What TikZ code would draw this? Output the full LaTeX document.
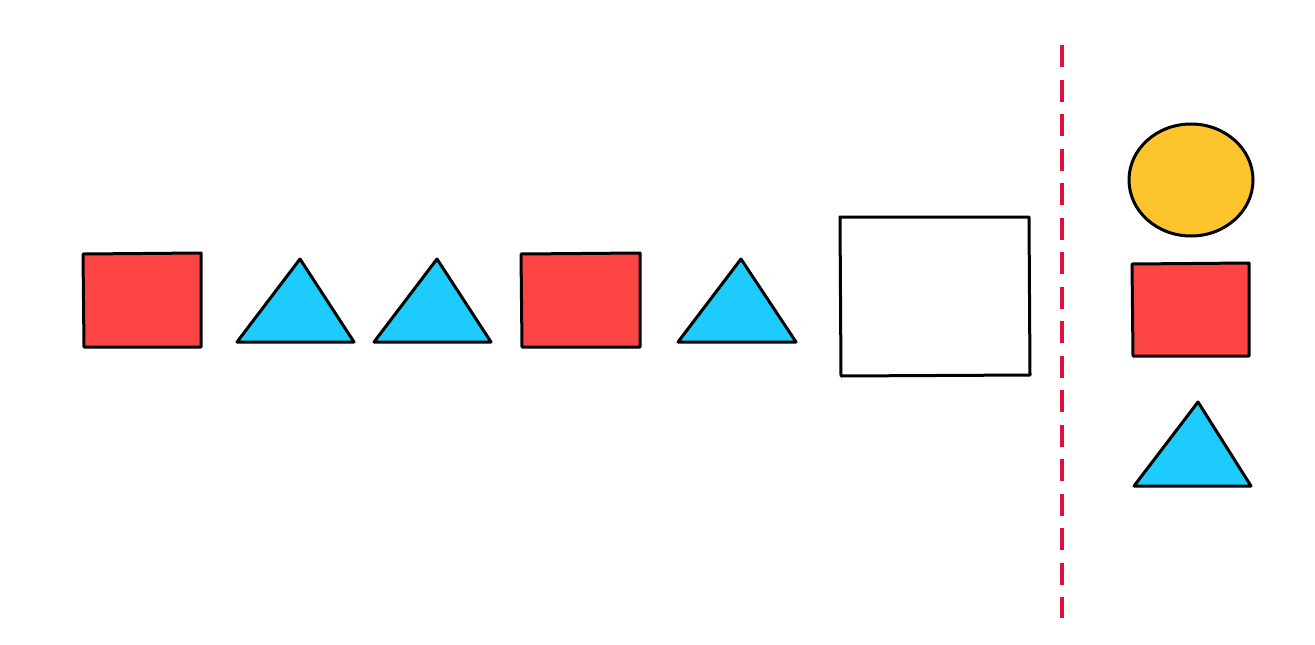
\documentclass[tikz,border=0pt]{standalone}
\definecolor{shapered}{HTML}{FC4444}
\definecolor{shapeblue}{HTML}{1DCCFD}
\definecolor{shapeyellow}{HTML}{FEC42E}
\definecolor{divider}{HTML}{E0103C}
\tikzset{
  outline/.style={draw=black, line width=3pt, line join=round},
  redbox/.style={outline, fill=shapered},
  bluetri/.style={outline, fill=shapeblue},
  yellowcirc/.style={outline, fill=shapeyellow},
  emptybox/.style={outline, fill=white},
  divline/.style={draw=divider, line width=4.5pt, dash pattern=on 22pt off 12.5pt},
}
\begin{document}
\begin{tikzpicture}[x=1pt,y=-1pt]
\useasboundingbox (0,0) rectangle (1315,645);
% row of shapes
\path[redbox] (83,254) -- (201,253) -- (201,347) -- (84,347) -- cycle;
\path[bluetri] (237,342) -- (300,259) -- (354,342) -- cycle;
\path[bluetri] (374,342) -- (437,259) -- (491,342) -- cycle;
\path[redbox] (521,254) -- (640,253) -- (640,347) -- (522,347) -- cycle;
\path[bluetri] (678,342) -- (741,259) -- (796,342) -- cycle;
\path[emptybox] (840,217) -- (1029,217) -- (1030,375) -- (841,376) -- cycle;
% divider
\coordinate (dtop) at (1062,45);
\coordinate (dbot) at (1062,618);
\draw[divline] (dtop) -- (dbot);
% right column
\path[yellowcirc] (1191,180) ellipse [x radius=62, y radius=56];
\path[redbox] (1132,264) -- (1249,263) -- (1249,356) -- (1133,356) -- cycle;
\path[bluetri] (1134,486) -- (1198,402) -- (1251,486) -- cycle;
\end{tikzpicture}
\end{document}
